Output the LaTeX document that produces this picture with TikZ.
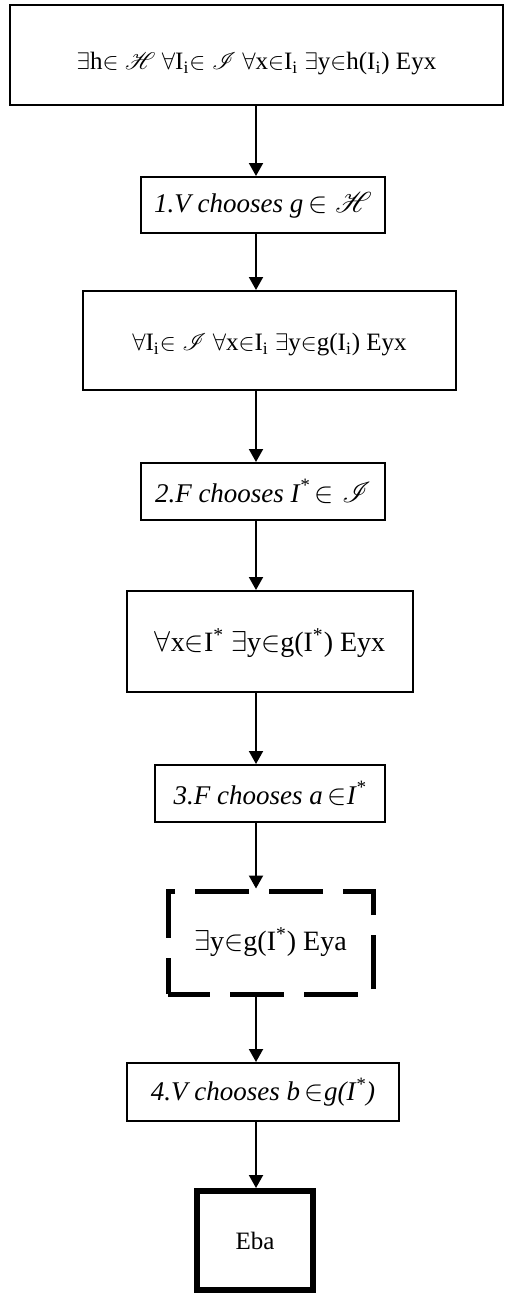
\documentclass[tikz,border=0pt]{standalone}
\usepackage{fontspec}
\setmainfont{Liberation Serif}
\usepackage{mathrsfs}
\usetikzlibrary{arrows.meta}

\begin{document}
\begin{tikzpicture}[x=0.5pt,y=-0.5pt,
  box/.style={draw,line width=1pt,inner sep=0pt,font=\fontsize{12.5}{15}\selectfont},
  step box/.style={box,font=\fontsize{13.5}{16}\selectfont\itshape},
  flow/.style={line width=1pt,-{Triangle[width=7pt,length=6.5pt]}}]

\useasboundingbox (0,0) rectangle (506,1295);
\coordinate (spine) at (256,0);

\node[box,minimum width=246.5pt,minimum height=50pt,text height=1.8em,text depth=.3em] (start) at (256.5,55)
  {$\exists$h$\in\mathscr{H}$ $\forall$I\textsubscript{i}$\in\mathscr{I}$ $\forall$x$\in$I\textsubscript{i} $\exists$y$\in$h(I\textsubscript{i}) Eyx};

\node[step box,minimum width=122pt,minimum height=28pt] (vg) at (263,205)
  {1.V chooses g$\,\in\mathscr{H}$};

\node[box,minimum width=186.5pt,minimum height=49.5pt,text height=1.3em,text depth=.3em] (allI) at (269.5,340.5)
  {$\forall$I\textsubscript{i}$\in\mathscr{I}$ $\forall$x$\in$I\textsubscript{i} $\exists$y$\in$g(I\textsubscript{i}) Eyx};

\node[step box,minimum width=122pt,minimum height=28.5pt] (fI) at (263,491.5)
  {2.F chooses I\textsuperscript{*}$\,\in\mathscr{I}$};

\node[box,font=\fontsize{14}{17}\selectfont,minimum width=143pt,minimum height=50.5pt,text height=1.3em,text depth=.3em] (allx) at (270,641.5)
  {$\forall$x$\in$I\textsuperscript{*} $\exists$y$\in$g(I\textsuperscript{*}) Eyx};

\node[step box,minimum width=115pt,minimum height=28.5pt] (fa) at (270,793.5)
  {3.F chooses a$\,\in$I\textsuperscript{*}};

\node[box,font=\fontsize{14}{17}\selectfont,line width=2.5pt,dash pattern=on 27pt off 10pt,dash phase=6pt,minimum width=102.5pt,minimum height=51.5pt,text height=1.1em,text depth=.3em] (somey) at (270.5,942.5)
  {$\exists$y$\in$g(I\textsuperscript{*}) Eya};

\node[step box,minimum width=136pt,minimum height=29pt] (vb) at (263,1092)
  {4.V chooses b$\,\in$g(I\textsuperscript{*})};

\node[box,line width=3pt,minimum width=58pt,minimum height=49.5pt] (eba) at (255,1240.5) {Eba};

\draw[flow] (start.south -| spine) -- (vg.north -| spine);
\draw[flow] (vg.south -| spine) -- (allI.north -| spine);
\draw[flow] (allI.south -| spine) -- (fI.north -| spine);
\draw[flow] (fI.south -| spine) -- (allx.north -| spine);
\draw[flow] (allx.south -| spine) -- (fa.north -| spine);
\draw[flow] (fa.south -| spine) -- (somey.north -| spine);
\draw[flow] (somey.south -| spine) -- (vb.north -| spine);
\draw[flow] (vb.south -| spine) -- (eba.north -| spine);

\end{tikzpicture}
\end{document}
